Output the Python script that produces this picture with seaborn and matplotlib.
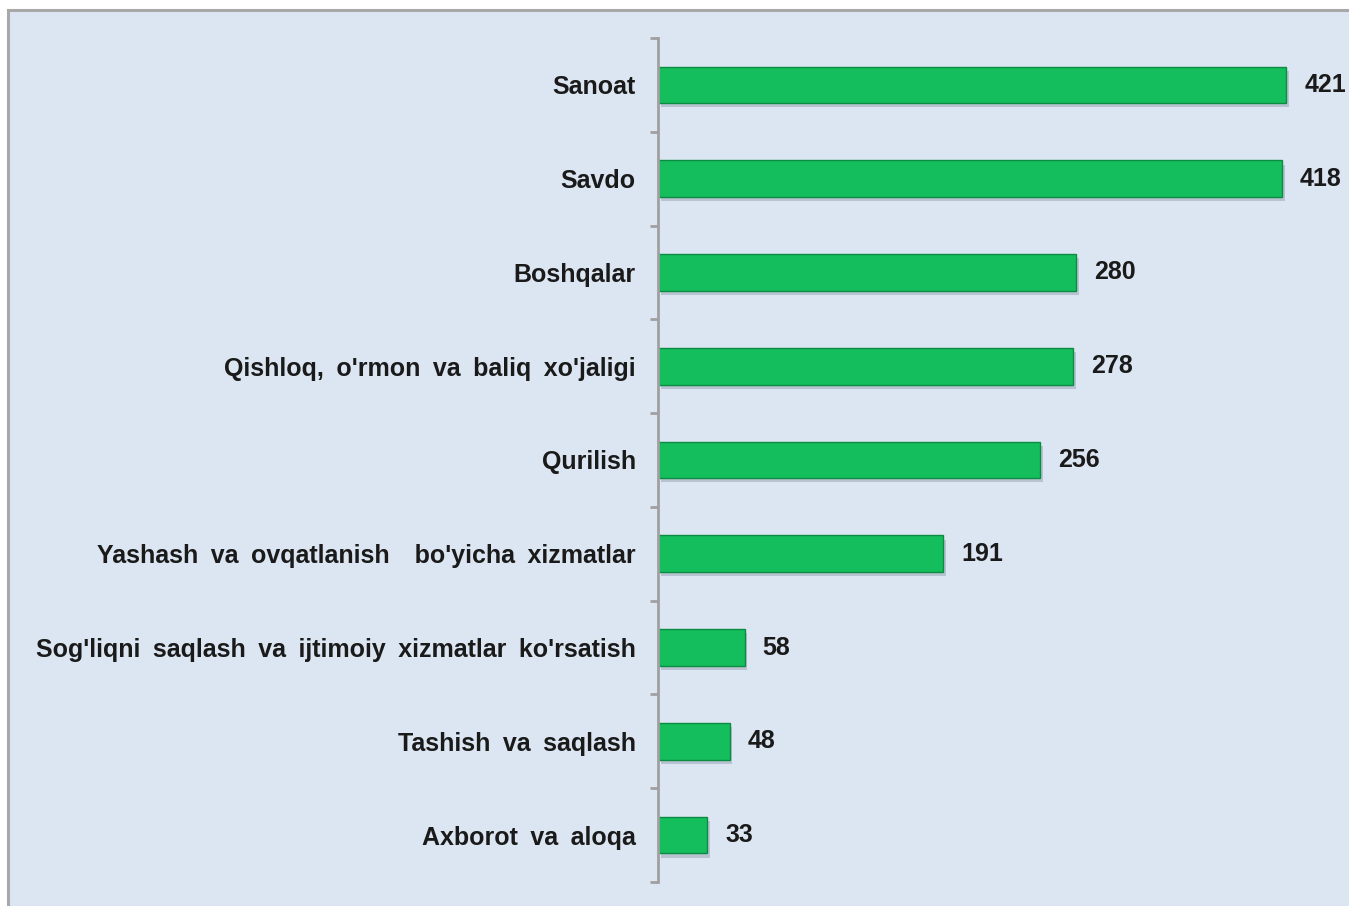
import matplotlib
matplotlib.use('Agg')
import matplotlib.pyplot as plt
import matplotlib.patheffects as pe
from matplotlib.patches import Rectangle
import numpy as np
import seaborn as sns
import pandas as pd

categories = [
    "Sanoat",
    "Savdo",
    "Boshqalar",
    "Qishloq, o'rmon va baliq xo'jaligi",
    "Qurilish",
    "Yashash va ovqatlanish  bo'yicha xizmatlar",
    "Sog'liqni saqlash va ijtimoiy xizmatlar ko'rsatish",
    "Tashish va saqlash",
    "Axborot va aloqa",
]
values = [421, 418, 280, 278, 256, 191, 58, 48, 33]

df = pd.DataFrame({'cat': categories, 'val': values})

sns.set_style('white')
plt.rcParams['font.family'] = ['Liberation Sans', 'DejaVu Sans']

bg = '#DCE6F2'
bar_color = '#14BE5C'
text_color = '#1A1A1A'

fig = plt.figure(figsize=(13.49, 9.06), dpi=100)
fig.patch.set_facecolor('white')
# chart area panel with grey border
fig.add_artist(Rectangle((8 / 1349, -0.01), 1.0, 1 - 10 / 906 + 0.01,
                         transform=fig.transFigure, facecolor=bg,
                         edgecolor='#A8A8A8', linewidth=2.2, zorder=0))

ax = fig.add_axes([658 / 1349, 1 - 882 / 906, 1 - 658 / 1349, (882 - 38) / 906])
ax.set_facecolor('none')

sns.barplot(data=df, y='cat', x='val', orient='h', color=bar_color,
            saturation=1, width=0.39, ax=ax)

for p in ax.patches:
    p.set_edgecolor('#0C8C43')
    p.set_linewidth(1.0)
    p.set_path_effects([pe.SimplePatchShadow(offset=(2, -3), alpha=0.28,
                                             shadow_rgbFace='#5a6a7a'),
                        pe.Normal()])

ax.bar_label(ax.containers[0], labels=[str(v) for v in values], padding=13,
             fontsize=18, fontweight='bold', color=text_color)

ax.set_xlim(0, 463)
ax.set_ylim(len(categories) - 0.5, -0.5)
ax.set_xlabel('')
ax.set_ylabel('')
ax.set_xticks([])

for s in ['top', 'right', 'bottom']:
    ax.spines[s].set_visible(False)
ax.spines['left'].set_color('#A0A0A0')
ax.spines['left'].set_linewidth(2)

ax.set_yticks(np.arange(-0.5, len(categories)), minor=True)
ax.tick_params(axis='y', which='minor', left=True, length=6, width=2,
               color='#A0A0A0', direction='out')
ax.tick_params(axis='y', which='major', left=False, length=0, pad=16)
# the original renders word gaps wider, use en spaces for display
ax.set_yticklabels([c.replace(' ', '\u2002') for c in categories],
                   fontsize=18, fontweight='bold', color=text_color)

fig.savefig('out.png', dpi=100)
